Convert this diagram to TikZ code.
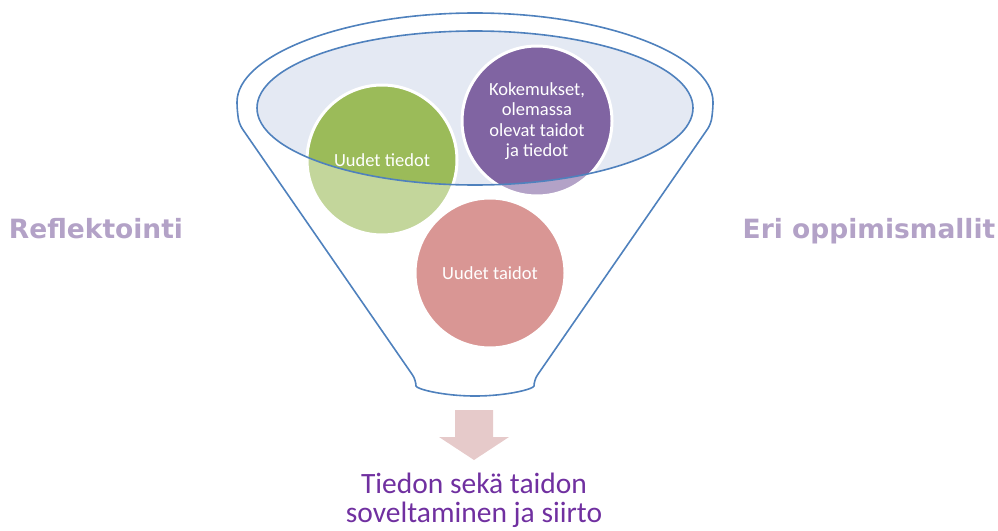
\documentclass[tikz,border=0pt]{standalone}
\usepackage{fontspec}
\setmainfont{Carlito}
\newfontfamily\sidefont{DejaVu Sans}
\usepackage{tikz}
\usetikzlibrary{positioning}
\definecolor{funnelblue}{HTML}{4F81BD}
\definecolor{bowlfill}{HTML}{E4E9F3}
\definecolor{tiedotgreen}{HTML}{9BBB59}
\definecolor{kokemuspurple}{HTML}{8064A2}
\definecolor{taidotpink}{HTML}{D99694}
\definecolor{arrowpink}{HTML}{E6CACA}
\definecolor{sidelilac}{HTML}{B3A2C7}
\definecolor{resultpurple}{HTML}{7030A0}
\tikzset{
x=1pt, y=-1pt, % one unit is one pixel of the reference, y runs down
funnel/.style={draw=funnelblue, line width=1.6pt}, % the outline of the funnel and the bowl
bubble/.style={circle, draw=white, line width=3pt, minimum size=150pt, inner sep=0pt, text=white, align=center, font=\fontsize{18.5}{20.5}\selectfont}, % the three circles
sidetext/.style={text=sidelilac, anchor=base, font=\sidefont\bfseries\fontsize{26.5}{30}\selectfont}, % the words left and right
}

\begin{document}
\begin{tikzpicture}
            \useasboundingbox (0,0) rectangle (998,530);
            % funnel body
            \draw[funnel, rounded corners=6pt] (237,108) arc[start angle=180, end angle=360, x radius=238, y radius=95]
                -- (711,124) -- (534,380) arc[start angle=0, end angle=180, x radius=59, y radius=16]
                -- (239,124) -- cycle;
            % bowl
            \fill[bowlfill] (475,108) ellipse[x radius=218, y radius=77];
            % pale parts of the circles
            \fill[tiedotgreen!60!white] (382,160) circle[radius=75];
            \fill[kokemuspurple!60!white] (537,121) circle[radius=75];
            \begin{scope}
                \clip (475,108) ellipse[x radius=218, y radius=77];
                \fill[tiedotgreen] (382,160) circle[radius=75];
                \fill[kokemuspurple] (537,121) circle[radius=75];
            \end{scope}
            \node[bubble] (tiedot) at (382,160) {Uudet tiedot};
            \node[bubble] (kokemus) at (537,121) {Kokemukset,\\olemassa\\olevat taidot\\ja tiedot};
            \node[bubble, fill=taidotpink] (taidot) at (490,273) {Uudet taidot};
            \draw[funnel] (475,108) ellipse[x radius=218, y radius=77];
            % arrow out of the funnel
            \fill[arrowpink] (455,410) -- (493,410) -- (493,437) -- (509,437) -- (474,460)
                -- (439,437) -- (455,437) -- cycle;
            \node[text=resultpurple, align=center, anchor=base, font=\fontsize{29.5}{29}\selectfont] (result) at (474,522)
                {Tiedon sekä taidon\\soveltaminen ja siirto};
            \node[sidetext] (reflektointi) at (96,238) {Reflektointi};
            \node[sidetext] (mallit) at (869,238) {Eri oppimismallit};
            \end{tikzpicture}
\end{document}
